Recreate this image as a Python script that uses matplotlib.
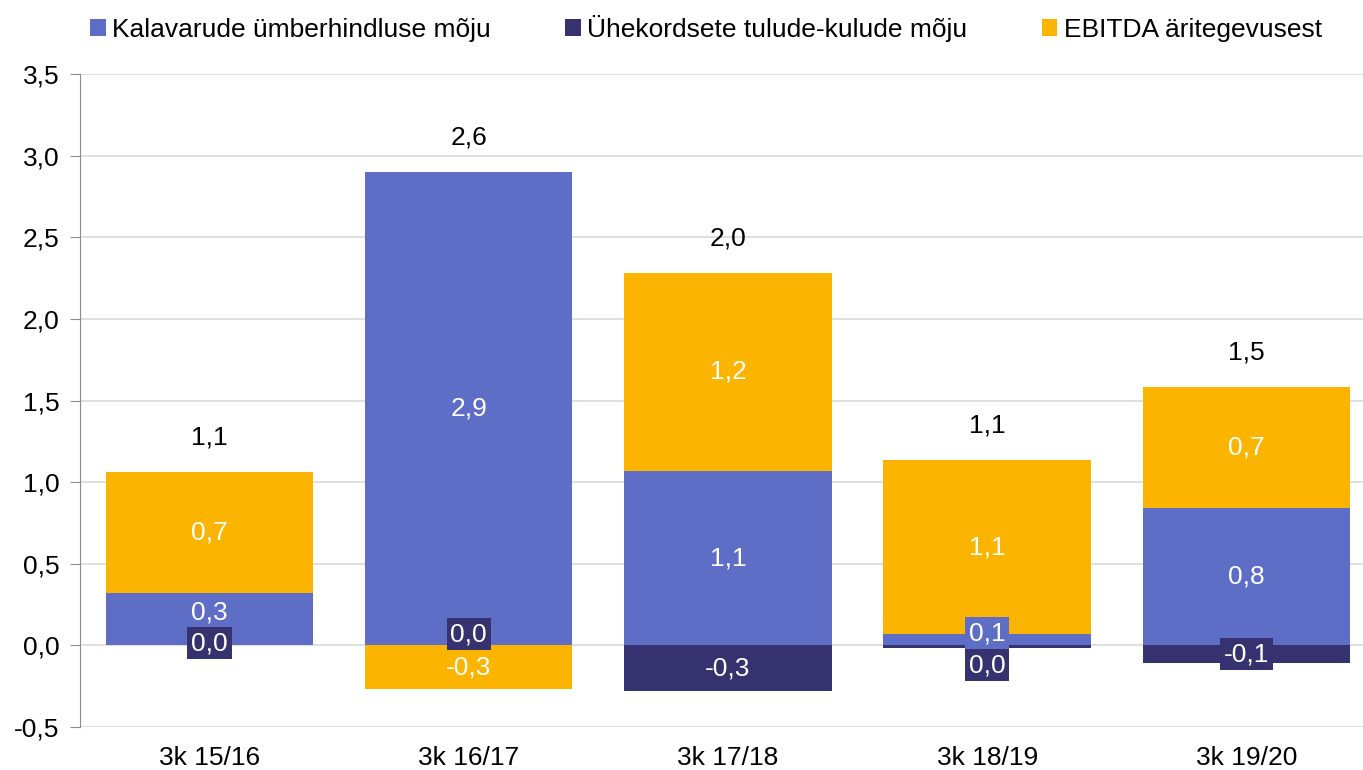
import numpy as np
import matplotlib
matplotlib.use('Agg')
import matplotlib.pyplot as plt

plt.rcParams['font.family'] = ['Liberation Sans', 'DejaVu Sans']

categories = ['3k 15/16', '3k 16/17', '3k 17/18', '3k 18/19', '3k 19/20']
kalavarud = [0.32, 2.90, 1.07, 0.067, 0.84]
yhekordsed = [0.00, 0.00, -0.28, -0.018, -0.11]
ebitda = [0.74, -0.27, 1.21, 1.067, 0.74]
totals = [1.1, 2.6, 2.0, 1.1, 1.5]

names = ['Kalavarude ümberhindluse mõju', 'Ühekordsete tulude-kulude mõju', 'EBITDA äritegevusest']
colors = ['#5E6EC7', '#36326F', '#FBB400']
series = [kalavarud, yhekordsed, ebitda]

# label nudges (points) where labels would overlap
nudge = {(0, 0): 5, (1, 0): 1.5, (1, 1): 8, (0, 3): 4.7, (1, 3): -13.3, (1, 4): 0}
boxed = {(1, 0), (1, 1), (0, 3), (1, 3), (1, 4)}

FS = 19

fig = plt.figure(figsize=(13.63, 7.70), dpi=100)
ax = fig.add_axes([80/1363, 1-727/770, 1-80/1363, (727-74)/770])

x = np.arange(len(categories))
pos_base = np.zeros(len(x))
neg_base = np.zeros(len(x))
for si, vals in enumerate(series):
    vals = np.array(vals)
    bottoms = np.where(vals > 0, pos_base, neg_base)
    ax.bar(x, vals, 0.8, bottom=bottoms, color=colors[si], label=names[si], zorder=2)
    for i, v in enumerate(vals):
        yc = bottoms[i] + v / 2
        txt = ('%.1f' % v).replace('.', ',')
        if txt == '-0,0':
            txt = '0,0'
        kw = {}
        if (si, i) in boxed:
            kw['bbox'] = dict(boxstyle='square,pad=0.15', fc=colors[si], ec='none')
        ax.annotate(txt, (x[i], yc), xytext=(0, nudge.get((si, i), 0)), textcoords='offset points',
                    ha='center', va='center', color='white', fontsize=FS, zorder=4, **kw)
    pos_base = pos_base + np.where(vals > 0, vals, 0)
    neg_base = neg_base + np.where(vals < 0, vals, 0)

for i, t in enumerate(totals):
    ax.annotate(('%.1f' % t).replace('.', ','), (x[i], pos_base[i]), xytext=(0, 25),
                textcoords='offset points', ha='center', va='center', fontsize=FS, color='black')

ax.set_ylim(-0.5, 3.5)
ax.set_xlim(-0.5, 4.45)
yt = np.arange(-0.5, 3.51, 0.5)
ax.set_yticks(yt)
ax.set_yticklabels([('%.1f' % t).replace('.', ',') for t in yt], fontsize=FS)
ax.set_xticks(x)
ax.set_xticklabels(categories, fontsize=FS)
ax.tick_params(axis='x', length=0, pad=14)
ax.tick_params(axis='y', length=7, color='#8C8C8C', pad=8)
ax.grid(axis='y', color='#D9D9D9', lw=1.2, zorder=0)
for s in ['top', 'right', 'bottom']:
    ax.spines[s].set_visible(False)
ax.spines['left'].set_color('#8C8C8C')

fig.legend(loc='upper center', bbox_to_anchor=(0.518, 1.012), ncol=3, frameon=False, fontsize=FS,
           handlelength=0.6, handleheight=0.6, handletextpad=0.25, columnspacing=2.8)

fig.savefig('out.png', dpi=100)
